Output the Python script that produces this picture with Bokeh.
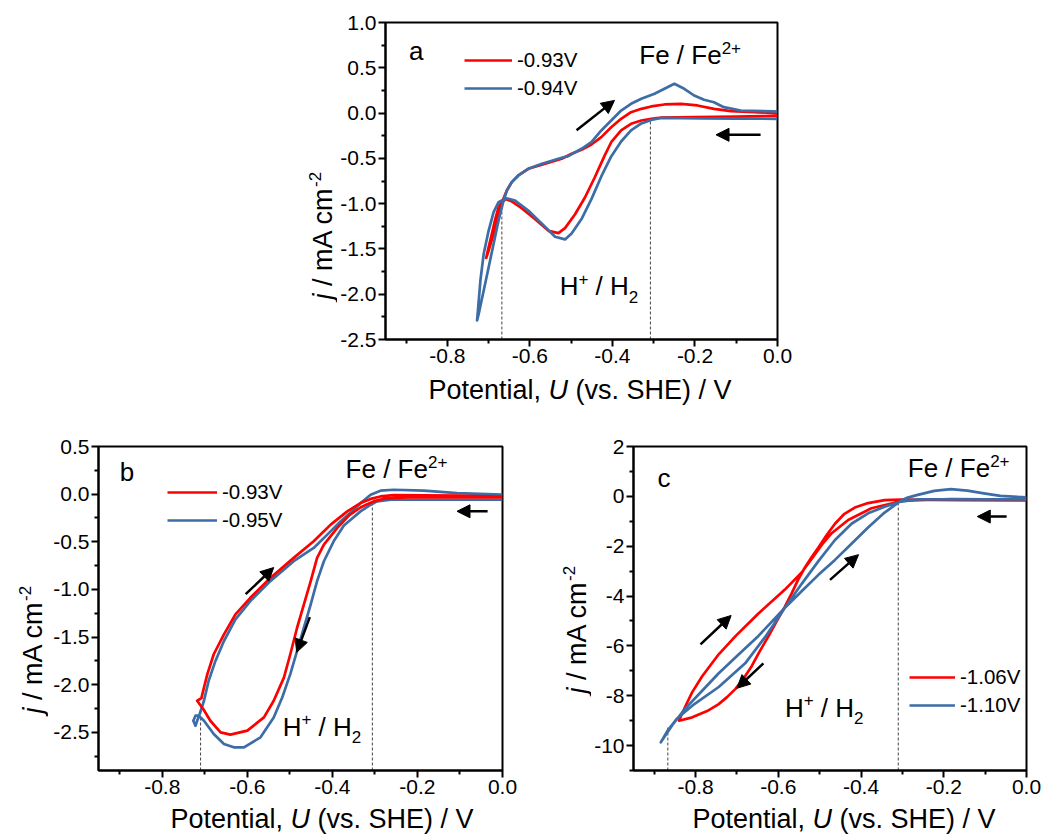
import numpy as np
from bokeh.plotting import figure
from bokeh.layouts import column, row
from bokeh.models import (Range1d, FixedTicker, Label, Arrow, NormalHead, Legend,
                          LegendItem, Spacer, CustomJSTickFormatter)
from bokeh.embed import file_html
from bokeh.resources import INLINE

FONT = "Liberation Sans"
RED = "#FF0000"
BLUE = "#3D6DA6"

# ---------------- data ----------------
x_ticks = [-0.8, -0.6, -0.4, -0.2, 0.0]
x_minor = [-0.9, -0.7, -0.5, -0.3, -0.1]
x_tick_labels = ["-0.8", "-0.6", "-0.4", "-0.2", "0.0"]

a_y_ticks = [-2.5, -2.0, -1.5, -1.0, -0.5, 0.0, 0.5, 1.0]
a_y_minor = [-2.25, -1.75, -1.25, -0.75, -0.25, 0.25, 0.75]
a_y_labels = ["-2.5", "-2.0", "-1.5", "-1.0", "-0.5", "0.0", "0.5", "1.0"]

b_y_ticks = [-2.5, -2.0, -1.5, -1.0, -0.5, 0.0, 0.5]
b_y_minor = [-2.75, -2.25, -1.75, -1.25, -0.75, -0.25, 0.25]
b_y_labels = ["-2.5", "-2.0", "-1.5", "-1.0", "-0.5", "0.0", "0.5"]

c_y_ticks = [-10, -8, -6, -4, -2, 0, 2]
c_y_minor = [-11, -9, -7, -5, -3, -1, 1]
c_y_labels = ["-10", "-8", "-6", "-4", "-2", "0", "2"]

# panel a : -0.93 V (red)
a_red_U = [0.000, -0.100, -0.200, -0.282, -0.306, -0.330, -0.355, -0.379, -0.403, -0.419,
           -0.443, -0.467, -0.491, -0.515, -0.531, -0.555, -0.588, -0.620, -0.644, -0.658,
           -0.668, -0.676, -0.684, -0.692, -0.700, -0.706,
           -0.700, -0.688, -0.676, -0.666, -0.656, -0.644, -0.628, -0.604, -0.571, -0.523,
           -0.499, -0.475, -0.451, -0.427, -0.403, -0.379, -0.355, -0.330, -0.306, -0.274,
           -0.234, -0.194, -0.154, -0.113, -0.057, 0.000]
a_red_j = [-0.030, -0.040, -0.045, -0.050, -0.063, -0.082, -0.118, -0.192, -0.322, -0.470,
           -0.711, -0.935, -1.120, -1.270, -1.325, -1.300, -1.170, -1.050, -0.975, -0.950,
           -0.980, -1.040, -1.170, -1.330, -1.480, -1.600,
           -1.517, -1.333, -1.112, -0.965, -0.855, -0.763, -0.689, -0.615, -0.570, -0.505,
           -0.450, -0.406, -0.347, -0.266, -0.156, -0.063, 0.010, 0.047, 0.073, 0.095,
           0.102, 0.084, 0.047, 0.021, 0.010, 0.000]
# panel a : -0.94 V (blue)
a_blue_U = [0.000, -0.100, -0.186, -0.282, -0.306, -0.330, -0.355, -0.379, -0.403, -0.427,
            -0.451, -0.475, -0.499, -0.515, -0.539, -0.571, -0.604, -0.636, -0.658, -0.676,
            -0.688, -0.700, -0.712, -0.720, -0.728,
            -0.724, -0.712, -0.700, -0.688, -0.676, -0.666, -0.656, -0.644, -0.628, -0.604,
            -0.571, -0.523, -0.507, -0.475, -0.451, -0.427, -0.403, -0.379, -0.355, -0.330,
            -0.298, -0.274, -0.250, -0.226, -0.202, -0.178, -0.154, -0.130, -0.089, -0.010,
            0.000]
a_blue_j = [-0.063, -0.062, -0.060, -0.054, -0.076, -0.115, -0.192, -0.314, -0.479, -0.700,
            -0.950, -1.170, -1.330, -1.395, -1.365, -1.223, -1.076, -0.965, -0.940, -0.984,
            -1.094, -1.297, -1.554, -1.849, -2.290,
            -2.216, -1.959, -1.702, -1.443, -1.186, -1.002, -0.855, -0.763, -0.689, -0.615,
            -0.560, -0.494, -0.475, -0.394, -0.322, -0.192, -0.082, 0.028, 0.102, 0.158,
            0.213, 0.268, 0.323, 0.268, 0.194, 0.147, 0.120, 0.065, 0.028, 0.018,
            0.017]

# panel b : -0.93 V (red)
b_red_U = [0.000, -0.146, -0.224, -0.279, -0.303, -0.318, -0.334, -0.360, -0.389, -0.420,
           -0.436, -0.451, -0.467, -0.483, -0.499, -0.514, -0.538, -0.561, -0.600, -0.640,
           -0.663, -0.687, -0.703, -0.718,
           -0.708, -0.702, -0.694, -0.679, -0.655, -0.628, -0.593, -0.546, -0.491, -0.444,
           -0.404, -0.365, -0.334, -0.310, -0.287, -0.256, -0.185, -0.107, -0.068, 0.000]
b_red_j = [-0.035, -0.035, -0.035, -0.048, -0.076, -0.105, -0.140, -0.220, -0.356, -0.529,
           -0.669, -0.913, -1.157, -1.402, -1.680, -1.925, -2.168, -2.343, -2.482, -2.524,
           -2.500, -2.378, -2.260, -2.168,
           -2.140, -2.029, -1.889, -1.680, -1.471, -1.261, -1.088, -0.879, -0.669, -0.495,
           -0.320, -0.181, -0.094, -0.050, -0.024, -0.010, -0.012, -0.015, -0.020, -0.025]
# panel b : -0.95 V (blue)
b_blue_U = [0.000, -0.146, -0.263, -0.295, -0.310, -0.334, -0.357, -0.373, -0.397, -0.420,
            -0.436, -0.451, -0.467, -0.483, -0.499, -0.518, -0.538, -0.569, -0.608, -0.632,
            -0.655, -0.679, -0.702, -0.714, -0.722, -0.727, -0.722, -0.718, -0.712,
            -0.702, -0.691, -0.675, -0.655, -0.628, -0.593, -0.546, -0.491, -0.444, -0.412,
            -0.381, -0.350, -0.330, -0.310, -0.287, -0.256, -0.185, -0.107, 0.000]
b_blue_j = [-0.059, -0.059, -0.059, -0.076, -0.111, -0.181, -0.268, -0.330, -0.495, -0.704,
            -0.913, -1.157, -1.402, -1.645, -1.889, -2.134, -2.343, -2.552, -2.657, -2.657,
            -2.621, -2.517, -2.378, -2.325, -2.325, -2.378, -2.430, -2.378, -2.307,
            -2.168, -1.959, -1.750, -1.541, -1.314, -1.122, -0.913, -0.704, -0.565, -0.425,
            -0.286, -0.163, -0.080, -0.006, 0.036, 0.046, 0.036, 0.010, -0.006]

# panel c : -1.06 V (red)
c_red_U = [0.000, -0.159, -0.303, -0.343, -0.383, -0.415, -0.440, -0.463, -0.483, -0.503,
           -0.520, -0.536, -0.552, -0.568, -0.584, -0.604, -0.624, -0.645, -0.664, -0.685,
           -0.704, -0.724, -0.744, -0.772, -0.808, -0.840,
           -0.832, -0.824, -0.808, -0.784, -0.744, -0.704, -0.648, -0.584, -0.544, -0.512,
           -0.491, -0.471, -0.431, -0.375, -0.296, -0.183, 0.000]
c_red_j = [-0.160, -0.148, -0.128, -0.150, -0.270, -0.450, -0.700, -1.100, -1.550, -2.050,
           -2.450, -2.864, -3.343, -3.902, -4.421, -5.020, -5.620, -6.219, -6.806, -7.337,
           -7.736, -8.056, -8.336, -8.615, -8.867, -9.003,
           -8.695, -8.403, -7.856, -7.217, -6.338, -5.620, -4.701, -3.742, -3.063, -2.344,
           -1.865, -1.478, -0.947, -0.479, -0.168, -0.108, -0.128]
# panel c : -1.10 V (blue)
c_blue_U = [0.000, -0.159, -0.263, -0.303, -0.343, -0.383, -0.423, -0.463, -0.503, -0.543,
            -0.584, -0.632, -0.680, -0.744, -0.808, -0.844, -0.868, -0.884,
            -0.856, -0.824, -0.784, -0.744, -0.696, -0.648, -0.584, -0.543, -0.503, -0.463,
            -0.423, -0.383, -0.343, -0.303, -0.287, -0.263, -0.223, -0.183, -0.143, -0.103,
            -0.063, 0.000]
c_blue_j = [-0.120, -0.120, -0.125, -0.210, -0.420, -0.680, -1.100, -1.750, -2.600, -3.500,
            -4.470, -5.650, -6.700, -7.650, -8.400, -8.900, -9.410, -9.870,
            -9.170, -8.500, -7.800, -7.100, -6.350, -5.600, -4.470, -3.800, -3.150, -2.550,
            -1.900, -1.250, -0.650, -0.170, -0.050, 0.060, 0.220, 0.290, 0.230, 0.120,
            0.020, -0.040]

# dotted guide lines: potential and top current
a_dot_U = [-0.668, -0.308]
a_dot_top = [-0.97, -0.07]
b_dot_U = [-0.710, -0.306]
b_dot_top = [-2.33, -0.08]
c_dot_U = [-0.867, -0.310]
c_dot_top = [-9.25, -0.20]

# sweep-direction arrows: (U_start, j_start, U_end, j_end)
a_arrows = [(-0.487, -0.19, -0.395, 0.14), (-0.041, -0.24, -0.149, -0.24)]
b_arrows = [(-0.604, -1.05, -0.538, -0.77), (-0.453, -1.29, -0.484, -1.66),
            (-0.035, -0.18, -0.107, -0.18)]
c_arrows = [(-0.475, -3.35, -0.406, -2.34), (-0.788, -5.94, -0.714, -4.78),
            (-0.636, -6.70, -0.700, -7.70), (-0.048, -0.81, -0.119, -0.81)]

legend_a = ["-0.93V", "-0.94V"]
legend_b = ["-0.93V", "-0.95V"]
legend_c = ["-1.06V", "-1.10V"]

# ---------------- helpers ----------------
W = {' ': 278, ',': 278, '.': 278, '/': 278, '(': 333, ')': 333, '-': 333, '+': 584,
     'A': 667, 'E': 667, 'F': 611, 'H': 722, 'P': 667, 'S': 667, 'U': 722, 'V': 667,
     'a': 556, 'c': 500, 'e': 556, 'i': 222, 'j': 222, 'l': 222, 'm': 833, 'n': 556,
     'o': 556, 's': 500, 't': 278, 'v': 500}
BASE = 0.35   # Label anchors the text box centre; shift so the baseline sits on the anchor


def tw(s, size):
    return sum(W.get(ch, 556) for ch in s) * size / 1000.0


def rich(p, x, y, parts, dx=0.0, dy=0.0, vertical=False):
    adv = 0.0
    for text, size, rise, style in parts:
        core = text.strip(' ')
        lead = len(text) - len(text.lstrip(' '))
        trail = len(text) - len(text.rstrip(' '))
        adv += tw(' ' * lead, size)
        common = dict(x=x, y=y, text=core, text_font=FONT, text_font_size=f"{size}px",
                      text_font_style=style, text_align="left",
                      text_baseline="alphabetic", text_color="black")
        if vertical:
            lab = Label(x_offset=dx - rise - BASE * size, y_offset=dy + adv,
                        angle=np.pi / 2, **common)
        else:
            lab = Label(x_offset=dx + adv, y_offset=dy + rise + BASE * size, **common)
        p.add_layout(lab)
        adv += tw(core, size) + tw(' ' * trail, size)


def fmt(tvals, tlabels):
    return CustomJSTickFormatter(args=dict(tv=tvals, tl=tlabels), code="""
        for (let i = 0; i < tv.length; i++) {
            if (Math.abs(tv[i] - tick) < 1e-9) { return tl[i]; }
        }
        return "";
    """)


def make_fig(w, h, bl, br, bt, bb, yr, yt, ym, yl):
    p = figure(width=w, height=h, x_range=Range1d(-0.95, 0.0), y_range=Range1d(*yr),
               output_backend="svg", toolbar_location=None,
               min_border_left=bl, min_border_right=br, min_border_top=bt,
               min_border_bottom=bb)
    p.grid.visible = False
    p.outline_line_color = "black"
    p.outline_line_width = 2
    p.outline_line_alpha = 1
    p.background_fill_color = "white"
    p.border_fill_color = "white"
    p.xaxis.ticker = FixedTicker(ticks=x_ticks, minor_ticks=x_minor)
    p.xaxis.formatter = fmt(x_ticks, x_tick_labels)
    p.yaxis.ticker = FixedTicker(ticks=yt, minor_ticks=ym)
    p.yaxis.formatter = fmt(yt, yl)
    for ax in (p.xaxis[0], p.yaxis[0]):
        ax.axis_line_width = 2
        ax.axis_line_color = "black"
        ax.major_tick_line_width = 2
        ax.minor_tick_line_width = 2
        ax.major_tick_out = 7
        ax.major_tick_in = 0
        ax.minor_tick_out = 4
        ax.minor_tick_in = 0
        ax.major_label_text_font = FONT
        ax.major_label_text_font_size = "21px"
        ax.major_label_text_color = "black"
        ax.major_label_standoff = 2
    return p


def text_fig(w, h):
    """A blank canvas whose data units are pixels, used for axis titles."""
    p = figure(frame_width=w, frame_height=h, x_range=Range1d(0, w), y_range=Range1d(0, h),
               output_backend="svg", toolbar_location=None, x_axis_type=None,
               y_axis_type=None, min_border=0, min_border_left=0, min_border_right=0,
               min_border_top=0, min_border_bottom=0)
    p.grid.visible = False
    p.outline_line_color = None
    p.background_fill_color = "white"
    p.border_fill_color = "white"
    return p


def curves(p, data, order):
    rs = {}
    for key in order:
        U, j, col = data[key]
        rs[key] = p.line(U, j, line_color=col, line_width=2.7, line_join="round")
    return rs


def add_legend(p, rs, labels, loc, gw):
    items = [LegendItem(label=labels[0], renderers=[rs["red"]]),
             LegendItem(label=labels[1], renderers=[rs["blue"]])]
    lg = Legend(items=items, location=loc, background_fill_alpha=0, border_line_alpha=0,
                padding=0, margin=0, spacing=4, glyph_width=gw, glyph_height=22,
                label_height=22, label_standoff=5, label_text_font=FONT,
                label_text_font_size="20.5px", label_text_color="black")
    p.add_layout(lg)


def dotted(p, xs, tops, ybot):
    p.segment(x0=xs, y0=[ybot] * len(xs), x1=xs, y1=tops, line_color="#444444",
              line_width=1, line_dash="3 2")


def arrows(p, arr):
    for (x0, y0, x1, y1) in arr:
        p.add_layout(Arrow(end=NormalHead(size=13, fill_color="black", line_color="black",
                                          line_width=1),
                           x_start=x0, y_start=y0, x_end=x1, y_end=y1,
                           line_color="black", line_width=2.5))


def annotate(p, letter, lxy, fe_xy, h_xy):
    rich(p, lxy[0], lxy[1], [(letter, 26, 0, "normal")])
    rich(p, fe_xy[0], fe_xy[1], [("Fe / Fe", 26, 0, "normal"), ("2+", 17, 10, "normal")])
    rich(p, h_xy[0], h_xy[1], [("H", 26, 0, "normal"), ("+", 17, 11, "normal"),
                               (" / H", 26, 0, "normal"), ("2", 17, -7, "normal")])


def xtitles(w, h, xs, y):
    t = text_fig(w, h)
    for x in xs:
        rich(t, x, y, [("Potential, ", 27, 0, "normal"), ("U", 27, 0, "italic"),
                       (" (vs. SHE) / V", 27, 0, "normal")])
    return t


def ytitle(w, h, x, y):
    t = text_fig(w, h)
    rich(t, x, y, [("j", 27, 0, "italic"), (" / mA cm", 27, 0, "normal"),
                   ("-2", 17, 12, "normal")], vertical=True)
    return t


# ---------------- panel a ----------------
pa = make_fig(470, 373, 46, 30, 22, 34, (-2.5, 1.0), a_y_ticks, a_y_minor, a_y_labels)
dotted(pa, a_dot_U, a_dot_top, -2.5)
ra = curves(pa, {"red": (a_red_U, a_red_j, RED), "blue": (a_blue_U, a_blue_j, BLUE)},
            ["red", "blue"])
arrows(pa, a_arrows)
add_legend(pa, ra, legend_a, (79, 239), 48)
annotate(pa, "a", (-0.893, 0.58), (-0.335, 0.544), (-0.528, -2.014))
ya = ytitle(37, 373, 32, 96)

# ---------------- panel b ----------------
pb = make_fig(472, 385, 50, 18, 24, 35, (-2.9, 0.5), b_y_ticks, b_y_minor, b_y_labels)
dotted(pb, b_dot_U, b_dot_top, -2.9)
rb = curves(pb, {"red": (b_red_U, b_red_j, RED), "blue": (b_blue_U, b_blue_j, BLUE)},
            ["blue", "red"])
arrows(pb, b_arrows)
add_legend(pb, rb, legend_b, (69, 238), 50)
annotate(pb, "b", (-0.900, 0.133), (-0.369, 0.167), (-0.517, -2.534))
yb = ytitle(48, 385, 42, 118)

# ---------------- panel c ----------------
pc = make_fig(456, 385, 40, 21, 26, 34, (-11, 2), c_y_ticks, c_y_minor, c_y_labels)
dotted(pc, c_dot_U, c_dot_top, -11)
rc = curves(pc, {"red": (c_red_U, c_red_j, RED), "blue": (c_blue_U, c_blue_j, BLUE)},
            ["red", "blue"])
arrows(pc, c_arrows)
add_legend(pc, rc, legend_c, (276, 53), 46)
annotate(pc, "c", (-0.892, 0.38), (-0.287, 0.783), (-0.584, -8.87))
yc = ytitle(71, 385, 66, 138)

# x-axis titles: full-width strips, positions in page pixels
xt_top = xtitles(1047, 47, [428], 21)
xt_bot = xtitles(1047, 30, [170, 692], 7)

layout = column(row(Spacer(width=300, height=373), ya, pa),
                xt_top,
                row(yb, pb, yc, pc),
                xt_bot)
open("out.html", "w").write(file_html(layout, INLINE))
